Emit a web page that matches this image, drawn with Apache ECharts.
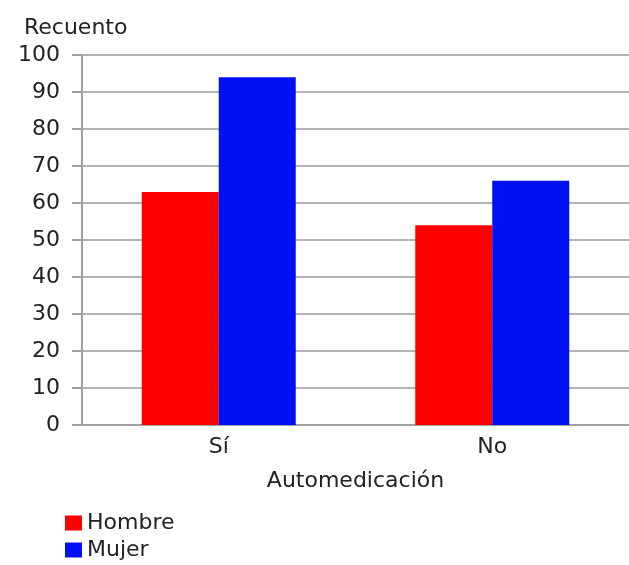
<!DOCTYPE html>
<html>
<head>
<meta charset="utf-8">
<script src="https://cdn.jsdelivr.net/npm/echarts@6/dist/echarts.min.js"></script>
<style>
html,body{margin:0;padding:0;background:#fff;}
#c{width:629px;height:565px;}
</style>
</head>
<body>
<div id="c"></div>
<script>
const categories = ['Sí', 'No'];
const seriesNames = ['Hombre', 'Mujer'];
const hombre = [63, 54];
const mujer = [94, 66];
const yTicks = [0, 10, 20, 30, 40, 50, 60, 70, 80, 90, 100];

const font = 'DejaVu Sans, Verdana, sans-serif';
const legendBase = {
  left: 60,
  itemWidth: 17, itemHeight: 15,
  itemGap: 4,
  icon: 'rect',
  textStyle: {fontFamily: font, fontSize: 22, color: '#222'}
};
const chart = echarts.init(document.getElementById('c'), null, {renderer: 'canvas'});
chart.setOption({
  animation: false,
  backgroundColor: '#ffffff',
  title: {
    text: 'Recuento',
    left: 19, top: 12,
    textStyle: {fontFamily: font, fontSize: 22, fontWeight: 'normal', color: '#222'}
  },
  legend: [
    Object.assign({}, legendBase, {top: 507, data: [seriesNames[0]]}),
    Object.assign({}, legendBase, {top: 534, data: [seriesNames[1]]})
  ],
  grid: {left: 82, right: -2, top: 55, bottom: 140, containLabel: false},
  xAxis: {
    type: 'category',
    data: categories,
    name: 'Automedicación',
    nameLocation: 'middle',
    nameGap: 45,
    nameTextStyle: {fontFamily: font, fontSize: 22, color: '#222'},
    axisLine: {lineStyle: {color: '#a0a0a0', width: 2}},
    axisTick: {show: false},
    axisLabel: {fontFamily: font, fontSize: 22, color: '#222', margin: 11}
  },
  yAxis: {
    type: 'value',
    min: yTicks[0], max: yTicks[yTicks.length - 1], interval: 10,
    axisLine: {show: true, lineStyle: {color: '#a0a0a0', width: 2}},
    axisTick: {show: true, length: 10, lineStyle: {color: '#a0a0a0', width: 2}},
    axisLabel: {fontFamily: font, fontSize: 22, color: '#222', margin: 22},
    splitLine: {lineStyle: {color: '#b4b4b4', width: 2}}
  },
  series: [
    {name: seriesNames[0], type: 'bar', data: hombre, barWidth: 77, barGap: '0%', itemStyle: {color: '#ff0000'}},
    {name: seriesNames[1], type: 'bar', data: mujer, barWidth: 77, barGap: '0%', itemStyle: {color: '#0010f5'}}
  ]
});
</script>
</body>
</html>
